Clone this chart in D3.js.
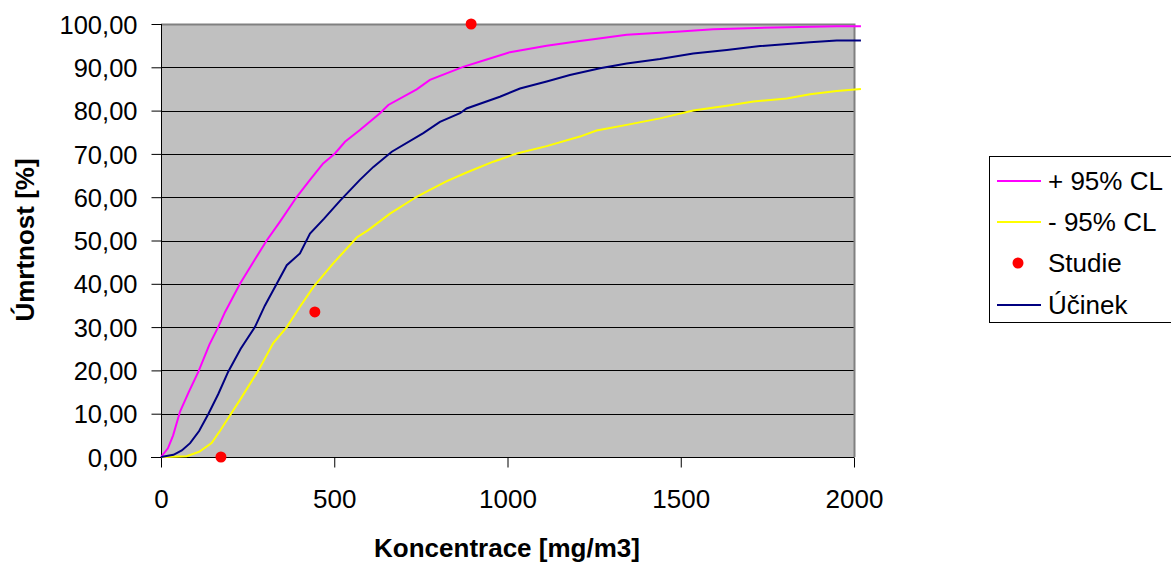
<!DOCTYPE html>
<html><head><meta charset="utf-8">
<script src="https://cdn.jsdelivr.net/npm/d3@7"></script>
<style>body{margin:0;background:#fff}svg{display:block}text{font-family:"Liberation Sans",Arial,sans-serif}</style>
</head><body>
<svg id="c" width="1171" height="563"></svg>
<script>
const upperCL = [[0,0],[20,2],[35,5],[55,10.5],[80,15],[108,19.7],[140,26],[165,30],[185,33.5],[228,40],[270,45.5],[305,50],[343,54.3],[392,60.1],[430,64],[468,67.8],[502,70.1],[531,72.8],[574,75.5],[632,79.4],[656,81.3],[738,84.9],[776,87.1],[872,90.1],[940,91.8],[1007,93.5],[1113,95],[1209,96.1],[1248,96.5],[1344,97.5],[1488,98.2],[1594,98.8],[1719,99.1],[1950,99.5],[2020,99.5]];
const lowerCL = [[0,0],[16,0],[74,0.2],[110,1.2],[146,3.2],[170,6],[190,8.5],[228,13.2],[281,20],[324,26.3],[363,30],[401,34.7],[440,39.3],[497,44.7],[565,50.7],[598,52.4],[661,56.2],[738,60.1],[776,61.7],[825,63.7],[882,65.7],[959,68.2],[1027,70.1],[1113,71.8],[1209,74],[1257,75.4],[1344,76.7],[1440,78.2],[1536,80],[1633,81.1],[1710,82.1],[1806,82.8],[1873,83.8],[1950,84.5],[2020,85]];
const effect = [[0,0],[36,0.5],[60,1.5],[84,3.2],[110,6],[137,10],[165,14.5],[194,19.7],[230,25],[271,30],[300,35],[334,40],[363,44.3],[401,47],[430,51.6],[470,55],[517,59.2],[574,64],[613,67],[666,70.5],[757,74.8],[805,77.4],[863,79.4],[882,80.5],[978,83.2],[1036,85.1],[1113,86.7],[1180,88.2],[1267,89.8],[1344,90.9],[1440,91.9],[1536,93.2],[1633,94],[1729,94.9],[1873,95.8],[1950,96.2],[2020,96.2]];
const study = [[173,0],[444,33.5],[895,100]];
const xTicks = [0,500,1000,1500,2000];
const yTicks = [0,10,20,30,40,50,60,70,80,90,100];
const legendLabels = ["+ 95% CL","- 95% CL","Studie","Účinek"];

const svg = d3.select("#c");
const L=161,R=854,T=24,B=457;
const x = d3.scaleLinear().domain([0,2000]).range([L,R]);
const y = d3.scaleLinear().domain([0,100]).range([B,T]);
const fmt = v => d3.format(".2f")(v).replace(".",",");

svg.append("rect").attr("x",L).attr("y",T).attr("width",R-L).attr("height",B-T).attr("fill","#C0C0C0");
svg.append("g").selectAll("line").data(yTicks.slice(1)).join("line")
  .attr("x1",L).attr("x2",R).attr("y1",d=>Math.round(y(d))+0.5).attr("y2",d=>Math.round(y(d))+0.5)
  .attr("stroke","#000").attr("stroke-width",1);
svg.append("path").attr("d",`M${L},${T+0.5}H${R+0.5}V${B}`).attr("fill","none").attr("stroke","#808080").attr("stroke-width",2);

const yAxis = d3.axisLeft(y).tickValues(yTicks).tickFormat(fmt).tickSize(10).tickPadding(14);
const gy = svg.append("g").attr("transform",`translate(${L+0.5},0)`).call(yAxis);
gy.selectAll("text").attr("font-size",25.5).attr("fill","#000").attr("dy","0.36em");
gy.selectAll("line").attr("stroke","#000");
gy.select(".domain").attr("stroke","#000").attr("d",`M0,${T}V${B+10}`);

const xAxis = d3.axisBottom(x).tickValues(xTicks).tickFormat(d3.format("d")).tickSize(10).tickPadding(22);
const gx = svg.append("g").attr("transform",`translate(0,${B+0.5})`).call(xAxis);
gx.selectAll("text").attr("font-size",26).attr("fill","#000");
gx.selectAll("line").attr("stroke","#000");
gx.select(".domain").attr("stroke","#000").attr("d",`M${L-10},0H${R}`);

const line = d3.line().x(d=>x(d[0])).y(d=>y(d[1]));
const series = [[upperCL,"#FF00FF"],[lowerCL,"#FFFF00"],[effect,"#000080"]];
series.forEach(([data,col])=>{
  svg.append("path").datum(data).attr("d",line).attr("fill","none").attr("stroke",col).attr("stroke-width",2);
});
svg.append("g").selectAll("circle").data(study).join("circle")
  .attr("cx",d=>x(d[0])).attr("cy",d=>y(d[1])).attr("r",5.5).attr("fill","#FF0000");

svg.append("text").attr("x",507).attr("y",557).attr("text-anchor","middle").attr("font-size",26).attr("font-weight","bold").text("Koncentrace [mg/m3]");
svg.append("text").attr("transform",`translate(34,240) rotate(-90)`).attr("text-anchor","middle").attr("font-size",26).attr("font-weight","bold").text("Úmrtnost [%]");

const lg = svg.append("g");
lg.append("rect").attr("x",989.5).attr("y",156.5).attr("width",200).attr("height",166).attr("fill","#fff").attr("stroke","#000");
const rows=[181,222,263,305];
const legendItems=[{t:"line",c:"#FF00FF"},{t:"line",c:"#FFFF00"},{t:"dot",c:"#FF0000"},{t:"line",c:"#000080"}];
legendItems.forEach((it,i)=>{
  const ry=rows[i];
  if(it.t==="line") lg.append("line").attr("x1",997).attr("x2",1041).attr("y1",ry).attr("y2",ry).attr("stroke",it.c).attr("stroke-width",2);
  else lg.append("circle").attr("cx",1018).attr("cy",ry).attr("r",5.5).attr("fill",it.c);
  lg.append("text").attr("x",1048).attr("y",ry).attr("dy","0.36em").attr("font-size",26).text(legendLabels[i]);
});
</script>
</body></html>
